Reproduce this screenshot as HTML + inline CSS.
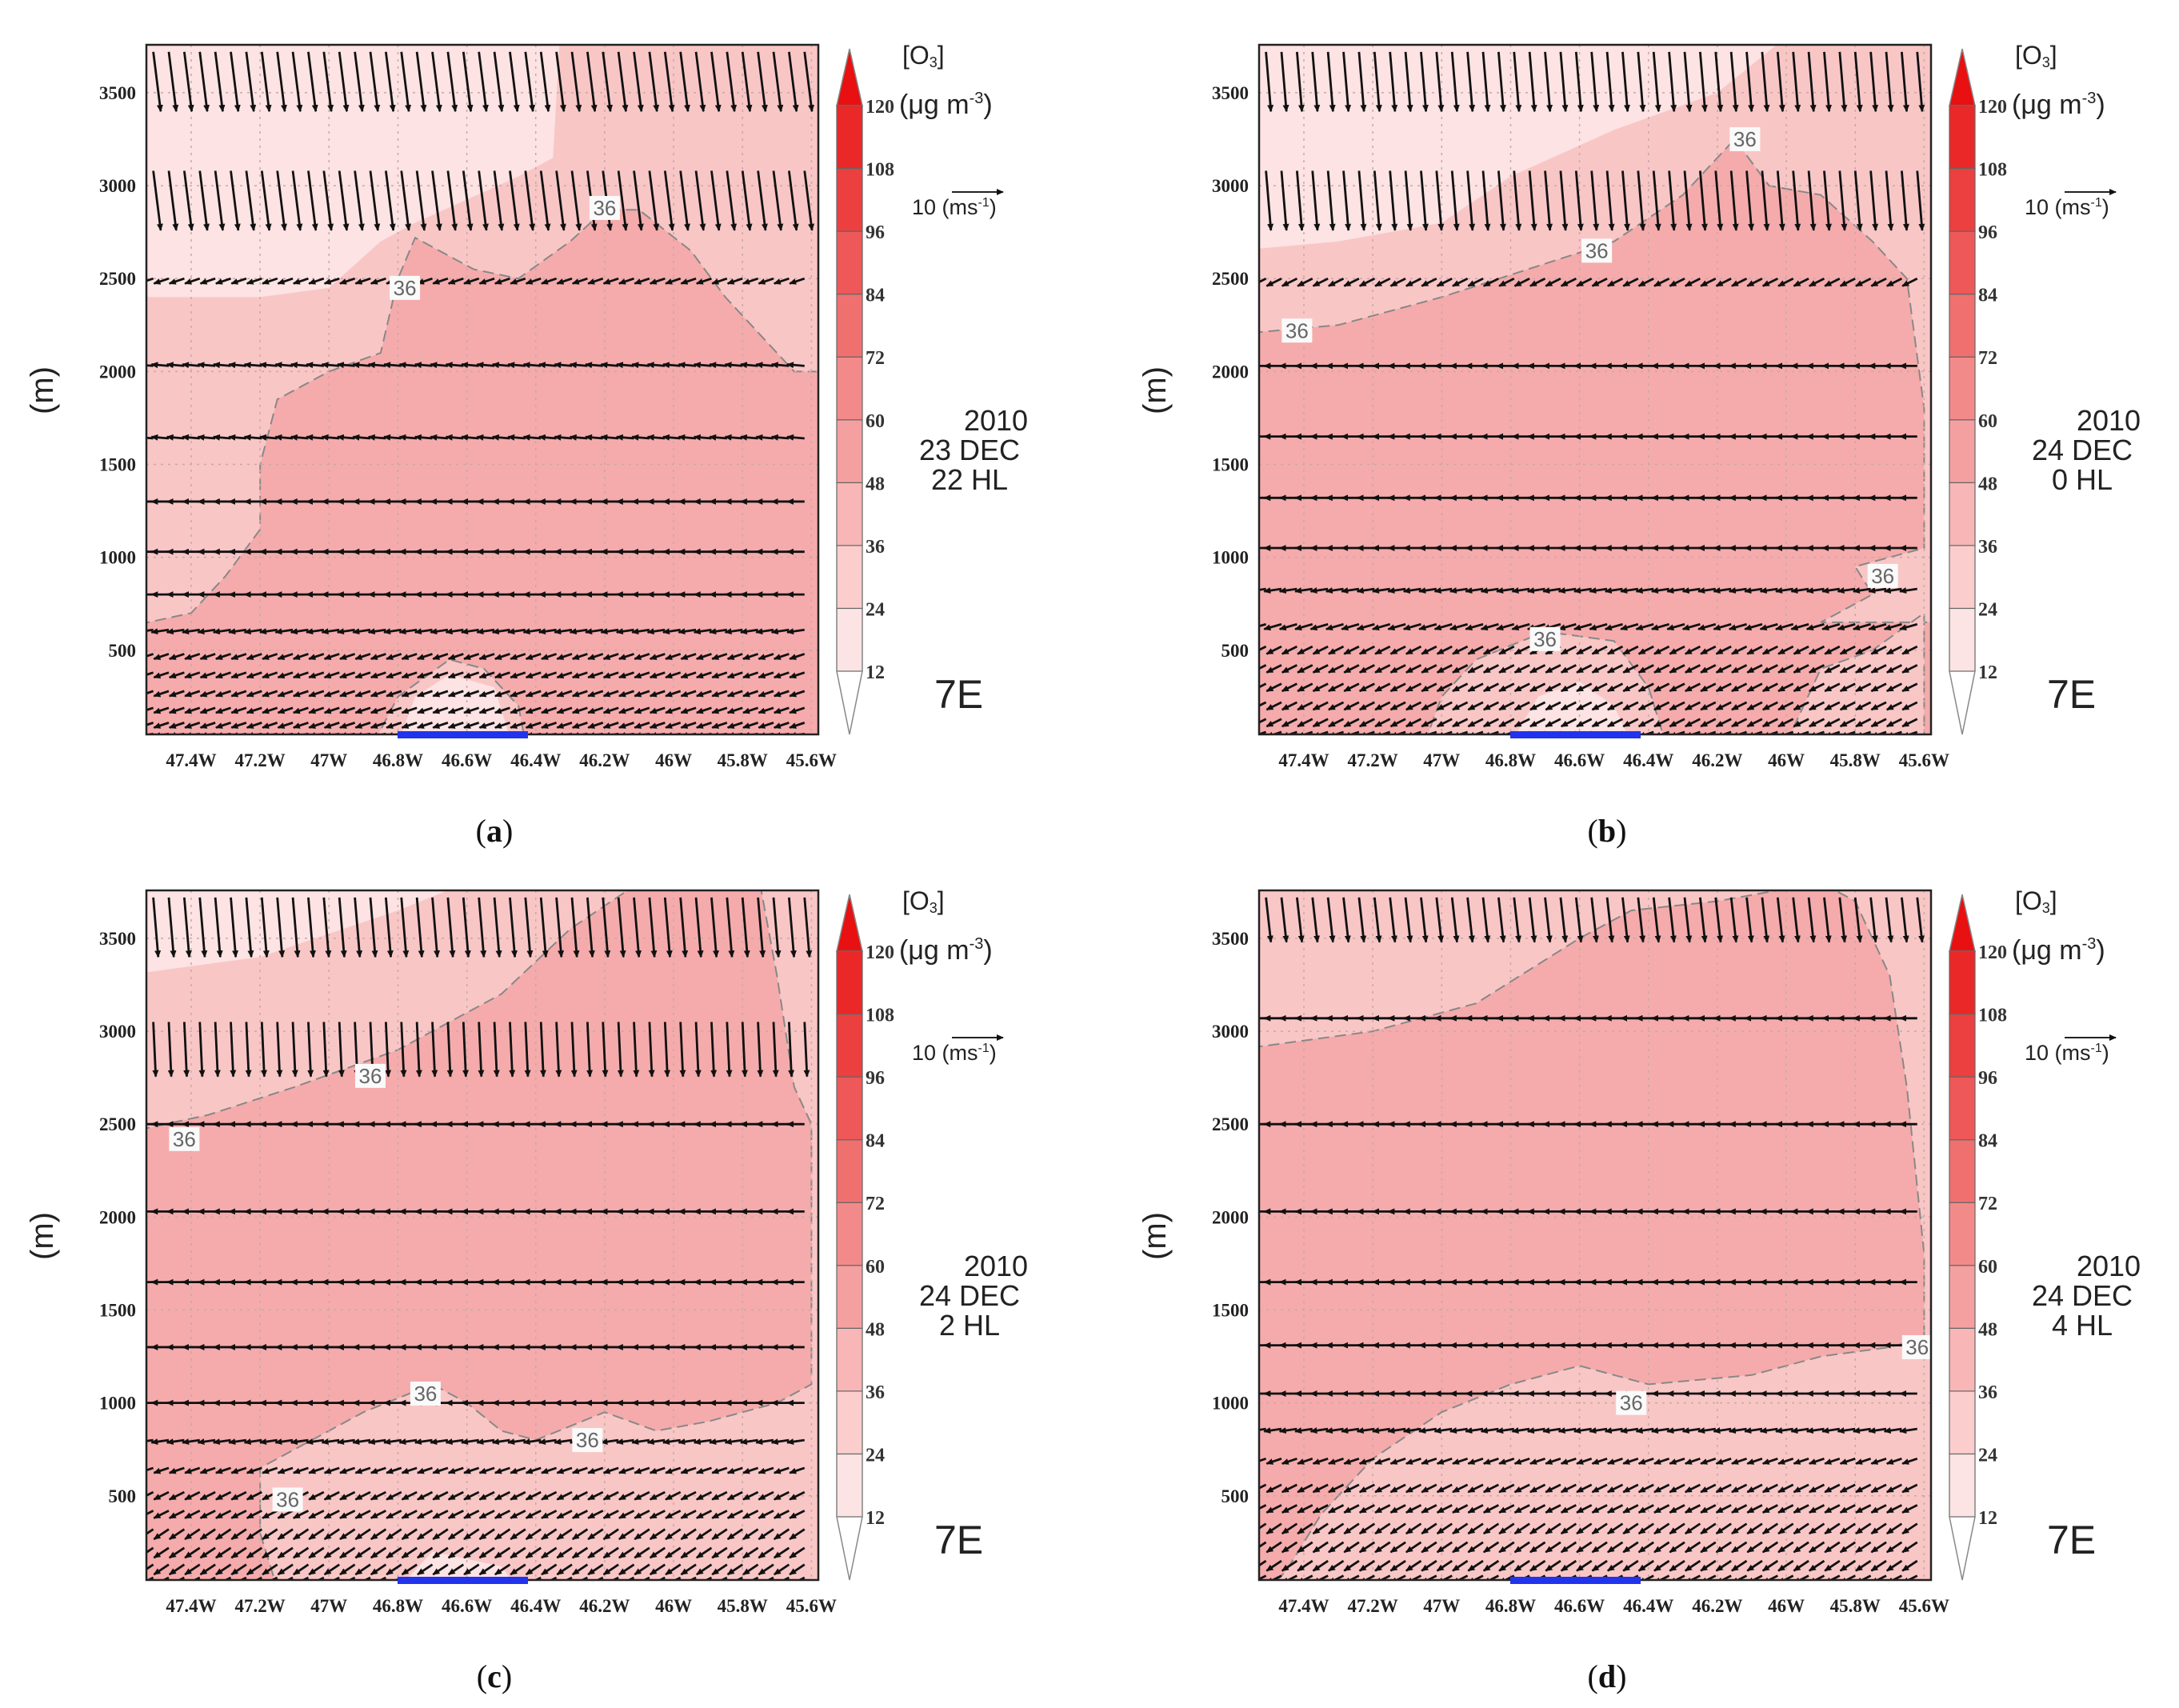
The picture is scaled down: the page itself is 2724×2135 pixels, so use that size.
<!DOCTYPE html>
<html><head><meta charset="utf-8"><style>
html,body{margin:0;padding:0;background:#fff;}
svg{display:block;}
.serif{font-family:"Liberation Serif",serif;}
.sans{font-family:"Liberation Sans",sans-serif;}
</style></head><body>
<svg id="fig" width="2724" height="2135" viewBox="0 0 2724 2135" xmlns="http://www.w3.org/2000/svg">
<defs>
<marker id="ah" markerWidth="9" markerHeight="8" refX="8" refY="4" orient="auto" markerUnits="userSpaceOnUse"><path d="M0,0 L9,4 L0,8 z" fill="#111"/></marker>
</defs>
</svg>
<script>
// ---- data ----
const panelIds = ['a','b','c','d'];
const panelDates = [['2010','23 DEC','22 HL'],['2010','24 DEC','0 HL'],['2010','24 DEC','2 HL'],['2010','24 DEC','4 HL']];
const yTicks = [500,1000,1500,2000,2500,3000,3500];
const xTicks = [47.4,47.2,47.0,46.8,46.6,46.4,46.2,46.0,45.8,45.6];
const xTickLabels = ['47.4W','47.2W','47W','46.8W','46.6W','46.4W','46.2W','46W','45.8W','45.6W'];
const cbLevels = [12,24,36,48,60,72,84,96,108,120];
const cbColors = ['#fde4e4','#fbcdcd','#f8b6b6','#f5a0a0','#f38a8a','#f07070','#ee5858','#ec4040','#ea2828'];
const darkA = [[47.6,620],[47.4,700],[47.3,900],[47.2,1150],[47.2,1500],[47.15,1850],[47.0,2000],[46.85,2100],[46.8,2500],[46.75,2720],[46.68,2650],[46.58,2550],[46.45,2500],[46.3,2700],[46.2,2870],[46.1,2870],[45.95,2650],[45.85,2400],[45.75,2200],[45.65,2000],[45.5,2000],[45.5,0],[47.6,0]];
const darkB = [[47.6,2200],[47.3,2250],[47.0,2400],[46.75,2550],[46.5,2700],[46.3,2950],[46.15,3250],[46.05,3000],[45.9,2950],[45.75,2700],[45.65,2500],[45.6,1800],[45.6,1050],[45.7,1000],[45.8,950],[45.75,800],[45.9,650],[45.5,650],[45.5,0],[47.6,0]];
const darkC = [[47.6,2450],[47.35,2550],[47.1,2700],[46.8,2900],[46.5,3200],[46.3,3550],[46.1,3800],[45.75,3800],[45.7,3300],[45.65,2700],[45.6,2500],[45.6,1100],[45.7,1000],[45.9,900],[46.05,850],[46.2,950],[46.4,800],[46.5,850],[46.6,1000],[46.7,1100],[46.9,950],[47.0,850],[47.2,650],[47.2,300],[47.15,0],[47.6,0]];
const darkD = [[47.6,2900],[47.2,3000],[46.9,3150],[46.6,3500],[46.45,3650],[46.2,3700],[45.9,3800],[45.8,3700],[45.7,3300],[45.65,2700],[45.6,1800],[45.6,1350],[45.7,1300],[45.9,1250],[46.1,1150],[46.4,1100],[46.6,1200],[46.8,1100],[47.0,950],[47.2,700],[47.35,400],[47.45,100],[47.5,0],[47.6,0]];
const lightA = [[46.87,0],[46.8,250],[46.65,450],[46.55,400],[46.45,200],[46.43,0]];
const lightB = [[47.05,0],[47.0,250],[46.9,450],[46.7,600],[46.5,550],[46.4,300],[46.35,0]];
const lightB2 = [[46.0,0],[45.9,400],[45.75,500],[45.6,700],[45.6,0]];
const lightC = [];
const lightD = [];
const whiteA = [[47.6,3800],[46.33,3800],[46.35,3150],[46.45,3050],[46.75,2800],[46.85,2700],[47.0,2450],[47.2,2400],[47.6,2400]];
const whiteA2 = [[46.8,0],[46.75,250],[46.65,370],[46.52,300],[46.47,0]];
const whiteB = [[47.6,3800],[46.0,3800],[46.2,3500],[46.5,3300],[46.8,3050],[47.0,2800],[47.3,2700],[47.6,2650]];
const whiteB2 = [[46.8,0],[46.72,250],[46.6,330],[46.5,200],[46.45,0]];
const whiteC = [[47.6,3800],[46.6,3800],[46.8,3650],[47.2,3400],[47.6,3300]];
const whiteC2 = [[46.8,0],[46.7,200],[46.5,120],[46.45,0]];
const whiteD = [];
const whiteD2 = [];
const rowHeightsA = [3720,3080,2500,2030,1640,1300,1030,800,610,480,380,280,190,110,50];
const rowUA = [1.5,1.5,-3,-3.5,-3.5,-3.5,-3.5,-3.5,-3.5,-3,-3,-3,-3,-3,-3];
const rowWA = [-12,-12,-1,0.3,0.3,0,0,0,-0.5,-1,-1,-1,-1,-1,-0.5];
const rowHeightsB = [3720,3080,2500,2030,1650,1320,1050,830,640,520,420,320,220,130,60];
const rowUB = [1,1,-3,-3.5,-3.5,-3.5,-3.5,-3.5,-3.5,-3,-3,-3,-3,-3,-3];
const rowWB = [-12,-12,-1.5,0,0,0,0,-0.5,-1,-1.5,-1.5,-1.5,-1.5,-1.5,-1];
const rowHeightsC = [3720,3050,2500,2030,1650,1300,1000,800,650,520,420,320,220,130,60];
const rowUC = [1,0.5,-3.5,-3.5,-3.5,-3.5,-3.5,-3.5,-3,-3,-3,-3,-3,-3,-3];
const rowWC = [-12,-11,0,0,0,0,0,-0.5,-1,-1.5,-1.5,-2,-2,-2,-1.5];
const rowHeightsD = [3720,3070,2500,2030,1650,1310,1050,860,700,560,450,350,250,150,70];
const rowUD = [1,-3.5,-3.5,-3.5,-3.5,-3.5,-3.5,-3.5,-3,-3,-3,-3,-3,-3,-3];
const rowWD = [-9,0,0,0,0,0,0,-0.5,-1,-1.5,-1.5,-2,-2,-2,-1.5];
const labelsA = [[46.2,2880],[46.78,2450]];
const labelsB = [[46.12,3250],[46.55,2650],[47.42,2220],[46.7,560],[45.72,900]];
const labelsC = [[46.88,2760],[47.42,2420],[46.72,1050],[46.25,800],[47.12,480]];
const labelsD = [[45.62,1300],[46.45,1000]];

const panels = [
 {dark:darkA, light:[lightA], white:[whiteA,whiteA2], rh:rowHeightsA, ru:rowUA, rw:rowWA, labels:labelsA},
 {dark:darkB, light:[lightB,lightB2], white:[whiteB,whiteB2], rh:rowHeightsB, ru:rowUB, rw:rowWB, labels:labelsB},
 {dark:darkC, light:[lightC], white:[whiteC,whiteC2], rh:rowHeightsC, ru:rowUC, rw:rowWC, labels:labelsC},
 {dark:darkD, light:[lightD], white:[whiteD,whiteD2], rh:rowHeightsD, ru:rowUD, rw:rowWD, labels:labelsD}
];
const offsets = [[0,0],[1391,0],[0,1057],[1391,1057]];

const NS='http://www.w3.org/2000/svg';
const svg=document.getElementById('fig');
const L=183,R=1023,T=56,B=918;
const LON0=47.53,LON1=45.58,H0=47,H1=3758;
function xs(lon){return L+(LON0-lon)/(LON0-LON1)*(R-L);}
function ys(h){return B-(h-H0)/(H1-H0)*(B-T);}
function mk(tag,attrs,parent){const e=document.createElementNS(NS,tag);for(const k in attrs)e.setAttribute(k,attrs[k]);parent.appendChild(e);return e;}
function poly(pts){return pts.map(p=>xs(p[0]).toFixed(1)+','+ys(p[1]).toFixed(1)).join(' ');}
const MS=6.2;

panels.forEach((p,i)=>{
 const g=mk('g',{transform:`translate(${offsets[i][0]},${offsets[i][1]})`},svg);
 
 
 const cid='clip'+i;
 const cp=mk('clipPath',{id:cid},g); mk('rect',{x:L,y:T,width:R-L,height:B-T},cp);
 const pg=mk('g',{'clip-path':`url(#${cid})`},g);
 const bg=mk('rect',{x:L,y:T,width:R-L,height:B-T,fill:'#f9c6c6'},pg);
 
 
 const dk=mk('polygon',{points:poly(p.dark),fill:'#f5abab',stroke:'#888','stroke-width':2,'stroke-dasharray':'14,7'},pg);
 
 
 p.light.forEach(pt=>{ if(pt.length){const e=mk('polygon',{points:poly(pt),fill:'#f9c6c6',stroke:'#888','stroke-width':2,'stroke-dasharray':'14,7'},pg);
  
  }});
 p.white.forEach(pt=>{ if(pt.length){const e=mk('polygon',{points:poly(pt),fill:'#fde3e3'},pg);
  
  }});
 xTicks.forEach(t=>{const e=mk('line',{x1:xs(t),x2:xs(t),y1:T,y2:B,stroke:'#c8a8a8','stroke-width':1.5,'stroke-dasharray':'3,6'},pg);
  
  });
 yTicks.forEach(t=>{const e=mk('line',{x1:L,x2:R,y1:ys(t),y2:ys(t),stroke:'#c8a8a8','stroke-width':1.5,'stroke-dasharray':'3,6'},pg);
  
  });
 const ag=mk('g',{stroke:'#111','stroke-width':2.8,fill:'none'},pg);
 
 
 p.rh.forEach((h,r)=>{
  for(let lon=47.51;lon>=45.6;lon-=0.045){
   const x0=xs(lon),y0=ys(h);
   const x1=x0+p.ru[r]*MS, y1=y0-p.rw[r]*MS;
   const a=mk('line',{x1:x0,y1:y0,x2:x1,y2:y1,'marker-end':'url(#ah)'},ag);
   
   
  }
 });
 p.labels.forEach(lb=>{
  const lg=mk('g',{},pg);
  
  
  mk('rect',{x:xs(lb[0])-19,y:ys(lb[1])-15,width:38,height:30,fill:'#fafafa'},lg);
  const t=mk('text',{x:xs(lb[0]),y:ys(lb[1])+9,'text-anchor':'middle','font-size':26,fill:'#666',class:'sans'},lg);
  t.textContent='36';
 });
 const fr=mk('rect',{x:L,y:T,width:R-L,height:B-T,fill:'none',stroke:'#222','stroke-width':2.5},g);
 
 
 const bb=mk('rect',{x:497,y:B-4,width:163,height:9,fill:'#2233ee'},g);
 
 
 yTicks.forEach(t=>{const e=mk('text',{x:170,y:ys(t)+8,'text-anchor':'end','font-size':23,'font-weight':'bold',fill:'#222',class:'serif'},g);
  
  
  e.textContent=t;});
 const yl=mk('text',{x:0,y:0,transform:'translate(66,488) rotate(-90)','text-anchor':'middle','font-size':40,fill:'#222',class:'sans'},g);
 
 
 yl.textContent='(m)';
 xTicks.forEach((t,k)=>{const e=mk('text',{x:xs(t),y:958,'text-anchor':'middle','font-size':23,'font-weight':'bold',fill:'#222',class:'serif'},g);
  
  
  e.textContent=xTickLabels[k];});
 const cx=1046,cw=32,cTop=132,cBot=839,seg=(cBot-cTop)/(cbLevels.length-1);
 const cbg=mk('g',{},g);
 
 
 mk('polygon',{points:`${cx},${cTop} ${cx+cw/2},61 ${cx+cw},${cTop}`,fill:'#e81010',stroke:'#888','stroke-width':1.5},cbg);
 cbColors.forEach((c,k)=>{mk('rect',{x:cx,y:cBot-(k+1)*seg,width:cw,height:seg,fill:c,stroke:'#666','stroke-width':1.2},cbg);});
 mk('polygon',{points:`${cx},${cBot} ${cx+cw/2},918 ${cx+cw},${cBot}`,fill:'#fff',stroke:'#888','stroke-width':1.5},cbg);
 cbLevels.forEach((v,k)=>{const e=mk('text',{x:1082,y:cBot-k*seg+9,'font-size':24,'font-weight':'bold',fill:'#333',class:'serif'},cbg);
  
  
  e.textContent=v;});
 const t1=mk('text',{x:1128,y:80,'font-size':32,fill:'#222',class:'sans'},g);
 
 
 t1.innerHTML='[O<tspan font-size="18" dy="4">3</tspan><tspan dy="-4">]</tspan>';
 const t2=mk('text',{x:1124,y:142,'font-size':34,fill:'#222',class:'sans'},g);
 
 
 t2.innerHTML='(μg m<tspan font-size="20" dy="-13">-3</tspan><tspan dy="13">)</tspan>';
 const ra=mk('line',{x1:1190,y1:240,x2:1254,y2:240,stroke:'#222','stroke-width':2,'marker-end':'url(#ah)'},g);
 
 
 const t3=mk('text',{x:1140,y:268,'font-size':27,fill:'#222',class:'sans'},g);
 
 
 t3.innerHTML='10 (ms<tspan font-size="16" dy="-10">-1</tspan><tspan dy="10">)</tspan>';
 panelDates[i].forEach((s,k)=>{const e=mk('text',{x:[1245,1212,1212][k],y:538+k*37,'text-anchor':'middle','font-size':36,fill:'#222',class:'sans'},g);
  
  
  e.textContent=s;});
 const t4=mk('text',{x:1168,y:885,'font-size':50,fill:'#222',class:'sans'},g);
 
 
 t4.textContent='7E';
 const cap=mk('text',{x:618,y:1052,'text-anchor':'middle','font-size':40,fill:'#111',class:'serif'},g);
 
 
 cap.innerHTML='(<tspan font-weight="bold">'+panelIds[i]+'</tspan>)';
});
</script>
</body></html>
